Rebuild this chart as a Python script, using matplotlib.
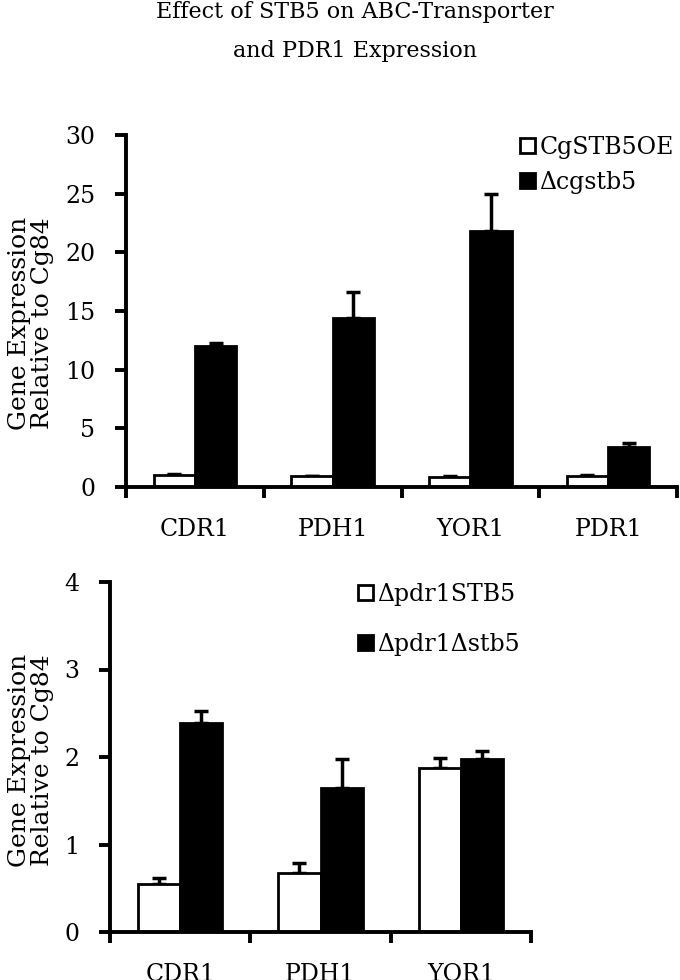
import numpy as np
import matplotlib
matplotlib.use("Agg")
import matplotlib.pyplot as plt

# top panel: ABC transporters + PDR1
TOP_GENES = ["CDR1", "PDH1", "YOR1", "PDR1"]
OE_MEAN = [1.0, 0.9, 0.85, 0.92]
OE_ERR = [0.15, 0.05, 0.05, 0.1]
DEL_MEAN = [12.05, 14.4, 21.8, 3.45]
DEL_ERR = [0.25, 2.2, 3.15, 0.3]
TOP_LABELS = ["CgSTB5OE", "\u0394cgstb5"]

# bottom panel: pdr1 background
BOT_GENES = ["CDR1", "PDH1", "YOR1"]
P_STB5_MEAN = [0.55, 0.67, 1.87]
P_STB5_ERR = [0.07, 0.12, 0.12]
P_DSTB5_MEAN = [2.39, 1.65, 1.98]
P_DSTB5_ERR = [0.14, 0.33, 0.09]
BOT_LABELS = ["\u0394pdr1STB5", "\u0394pdr1\u0394stb5"]

YLABEL = "Gene Expression\nRelative to Cg84"
TITLE = "Effect of STB5 on ABC-Transporter\nand PDR1 Expression"

plt.rcParams["font.family"] = ["DejaVu Serif"]
LW = 2.8
W = 0.3


def panel(ax, genes, m1, e1, m2, e2, labels, ymax, step, leg_xy, leg_sp):
    x = np.arange(len(genes))
    b1 = ax.bar(x - W / 2, m1, W, color="white", edgecolor="black", linewidth=2, zorder=2)
    b2 = ax.bar(x + W / 2, m2, W, color="black", edgecolor="black", linewidth=2, zorder=2)
    for xs, m, e in [(x - W / 2, m1, e1), (x + W / 2, m2, e2)]:
        ax.errorbar(xs, m, yerr=[np.zeros(len(m)), e], fmt="none", ecolor="black",
                    elinewidth=2.5, capsize=5, capthick=2.5, zorder=1)
    ax.set_xlim(-0.5, len(genes) - 0.5)
    ax.set_ylim(0, ymax)
    ax.set_yticks(np.arange(0, ymax + 0.01, step))
    ax.set_xticks(np.arange(len(genes) + 1) - 0.5)
    ax.set_xticklabels([])
    ax.set_xticks(x, minor=True)
    ax.set_xticklabels(genes, minor=True, fontsize=17)
    ax.tick_params(axis="x", which="minor", length=0, pad=22)
    ax.tick_params(axis="x", which="major", length=8, width=LW, direction="out")
    ax.tick_params(axis="y", length=8, width=LW, direction="out", pad=14, labelsize=17)
    for s in ["top", "right"]:
        ax.spines[s].set_visible(False)
    for s in ["left", "bottom"]:
        ax.spines[s].set_linewidth(LW)
    ax.legend([b1, b2], labels, loc="upper left", bbox_to_anchor=leg_xy,
              bbox_transform=ax.figure.transFigure, frameon=False, fontsize=17,
              handlelength=0.62, handleheight=0.62, handletextpad=0.2,
              labelspacing=leg_sp, borderpad=0, borderaxespad=0)


fig = plt.figure(figsize=(6.8, 9.8), dpi=100)
ax1 = fig.add_axes([126 / 680, 1 - 487 / 980, 551 / 680, 352 / 980])
ax2 = fig.add_axes([110 / 680, 1 - 932 / 980, 421 / 680, 350 / 980])

panel(ax1, TOP_GENES, OE_MEAN, OE_ERR, DEL_MEAN, DEL_ERR, TOP_LABELS, 30, 5,
      (520 / 680, 1 - 136 / 980), 0.5)
panel(ax2, BOT_GENES, P_STB5_MEAN, P_STB5_ERR, P_DSTB5_MEAN, P_DSTB5_ERR, BOT_LABELS, 4, 1,
      (358 / 680, 1 - 583 / 980), 1.15)

# y labels as figure text, centred on each panel
fig.text(31 / 680, 1 - 323 / 980, YLABEL, rotation=90, ha="center", va="center",
         fontsize=18, linespacing=1.0)
fig.text(31 / 680, 1 - 760 / 980, YLABEL, rotation=90, ha="center", va="center",
         fontsize=18, linespacing=1.0)

fig.text(355 / 680, 1 - 1 / 980, TITLE, ha="center", va="top", fontsize=16, linespacing=2.0)

fig.savefig("out.png", dpi=100)
